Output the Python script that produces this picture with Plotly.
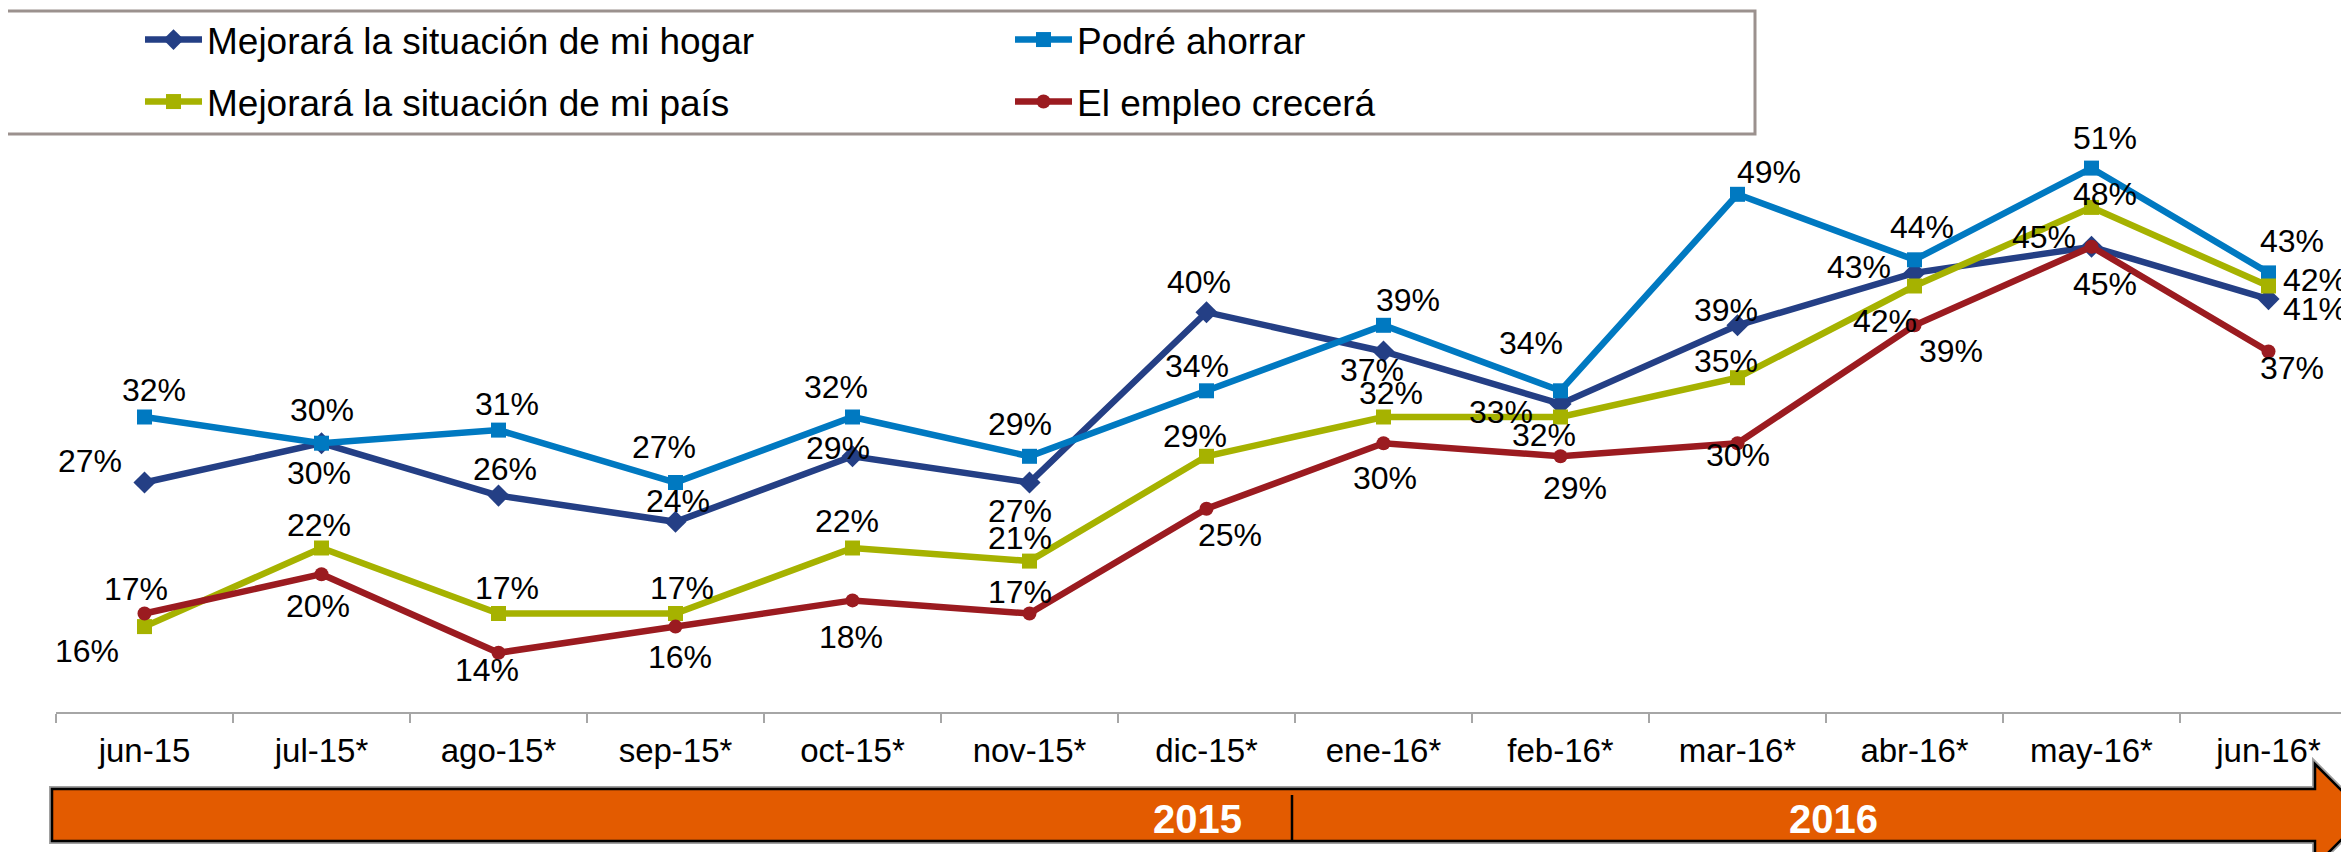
import plotly.graph_objects as go

# ---- data ----
months = ["jun-15", "jul-15*", "ago-15*", "sep-15*", "oct-15*", "nov-15*", "dic-15*",
          "ene-16*", "feb-16*", "mar-16*", "abr-16*", "may-16*", "jun-16*"]
hogar = [27, 30, 26, 24, 29, 27, 40, 37, 33, 39, 43, 45, 41]
ahorrar = [32, 30, 31, 27, 32, 29, 34, 39, 34, 49, 44, 51, 43]
pais = [16, 22, 17, 17, 22, 21, 29, 32, 32, 35, 42, 48, 42]
empleo = [17, 20, 14, 16, 18, 17, 25, 30, 29, 30, 39, 45, 37]
years = ["2015", "2016"]

names = ["Mejorará la situación de mi hogar", "Podré ahorrar",
         "Mejorará la situación de mi país", "El empleo crecerá"]

# ---- label offsets in px (style): (dx right, dy down) ----
off_hogar = [(-55, -22), (-3, 30), (6, -27), (2, -21), (-15, -8), (-10, 28), (-8, -30),
             (-12, 18), (-60, 8), (-12, -15), (-56, -6), (13, 37), (46, 10)]
off_ahorrar = [(9, -27), (0, -33), (8, -26), (-12, -36), (-17, -30), (-10, -32), (-10, -25),
               (24, -25), (-30, -48), (31, -22), (7, -33), (13, -30), (23, -32)]
off_pais = [(-58, 24), (-3, -23), (8, -26), (6, -26), (-6, -27), (-10, -23), (-12, -20),
            (7, -24), (-17, 18), (-12, -17), (-30, 35), (13, -13), (46, -6)]
off_empleo = [(-9, -25), (-4, 32), (-12, 17), (4, 30), (-2, 37), (-10, -22), (23, 26),
              (1, 35), (14, 32), (0, 12), (36, 26), (-48, -10), (23, 16)]

FONT = "Liberation Sans, Arial, sans-serif"
OFF = 8                      # page body margin in the browser
W, H = 2349 - OFF, 852 - OFF  # figure size so that the page does not overflow
# plot area in screen pixels
SL, ST, SB = 56, 8, 712
L, T = SL - OFF, ST - OFF
B = H - (SB - OFF)
PW, PH = W - L, H - T - B

def px(x):   # screen x -> paper
    return (x - OFF - L) / PW

def py(y):   # screen y -> paper
    return 1 - (y - OFF - T) / PH

# y scale: 32% at screen 417, 13.1 px per point
y_bottom = 32 - (SB - 417) / 13.1
y_top = 32 + (417 - ST) / 13.1
x_right = -0.5 + PW / 177.0

fig = go.Figure()
series = [
    (hogar, names[0], "#243F85", "diamond", 17, off_hogar, "legend"),
    (ahorrar, names[1], "#0079C1", "square", 15, off_ahorrar, "legend"),
    (pais, names[2], "#A6B200", "square", 15, off_pais, "legend2"),
    (empleo, names[3], "#9B1B20", "circle", 14, off_empleo, "legend2"),
]
for vals, name, color, sym, size, offs, leg in series:
    fig.add_trace(go.Scatter(
        x=months, y=vals, name=name, mode="lines+markers",
        line=dict(color=color, width=6.5),
        marker=dict(symbol=sym, size=size, color=color),
        cliponaxis=False, hoverinfo="skip", legend=leg,
    ))
    for m, v, (dx, dy) in zip(months, vals, offs):
        fig.add_annotation(x=m, y=v, xref="x", yref="y", text=f"{v}%", showarrow=False,
                           xshift=dx, yshift=-dy, xanchor="center", yanchor="middle",
                           font=dict(family=FONT, size=32, color="black"))

# legend frame
fig.add_shape(type="rect", xref="paper", yref="paper",
              x0=px(2), x1=px(1755), y0=py(11), y1=py(134),
              line=dict(color="#9B918E", width=3), fillcolor="rgba(0,0,0,0)")

# orange timeline arrow
def arrow_path():
    pts = [(52, 789), (2315, 789), (2315, 764), (2366, 815), (2315, 866), (2315, 841), (52, 841)]
    return "M " + " L ".join(f"{px(x):.5f},{py(y):.5f}" for x, y in pts) + " Z"

fig.add_shape(type="path", xref="paper", yref="paper", path=arrow_path(),
              line=dict(color="#A0A0A0", width=6), fillcolor="#E35B00")
fig.add_shape(type="path", xref="paper", yref="paper", path=arrow_path(),
              line=dict(color="black", width=2.5), fillcolor="#E35B00")
fig.add_shape(type="line", xref="paper", yref="paper",
              x0=px(1292), x1=px(1292), y0=py(795), y1=py(841),
              line=dict(color="black", width=2.5))
for label, cx in zip(years, [1197, 1833]):
    fig.add_annotation(x=px(cx), y=py(819), xref="paper", yref="paper", text=f"<b>{label}</b>",
                       showarrow=False, xanchor="center", yanchor="middle",
                       font=dict(family=FONT, size=40, color="white"))

legend_common = dict(orientation="h", font=dict(family=FONT, size=37, color="black"),
                     bgcolor="rgba(0,0,0,0)", borderwidth=0, itemwidth=57,
                     entrywidth=798, entrywidthmode="pixels",
                     xanchor="left", yanchor="middle", itemclick=False)

fig.update_layout(
    width=W, height=H,
    margin=dict(l=L, r=0, t=T, b=B, pad=0),
    paper_bgcolor="white", plot_bgcolor="white",
    showlegend=True,
    legend=dict(x=px(140), y=py(40), **legend_common),
    legend2=dict(x=px(140), y=py(102), **legend_common),
    xaxis=dict(type="category", range=[-0.5, x_right], showgrid=False, zeroline=False,
               showline=True, linecolor="#A6A6A6", linewidth=2,
               ticks="outside", tickson="boundaries", ticklen=9, tickwidth=2, tickcolor="#A6A6A6",
               tickfont=dict(family=FONT, size=33, color="black"), ticklabelstandoff=8),
    yaxis=dict(range=[y_bottom, y_top], visible=False, showgrid=False, zeroline=False),
    hovermode=False,
)

fig.write_html("out.html")
